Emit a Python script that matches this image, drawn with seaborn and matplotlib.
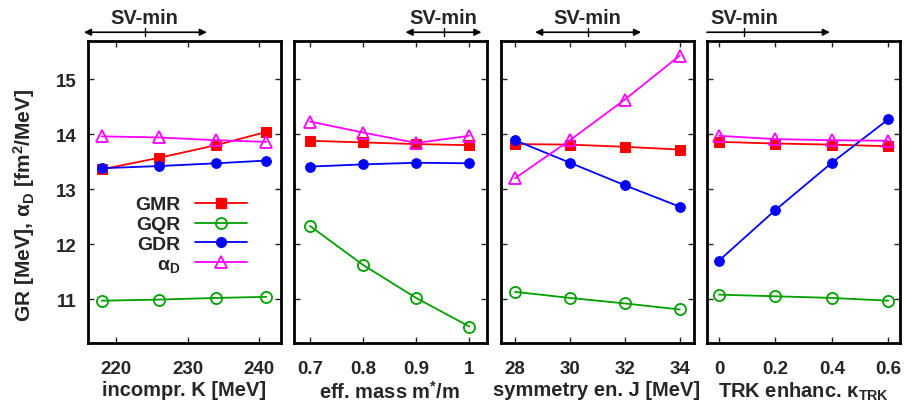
import matplotlib
matplotlib.use("Agg")
import matplotlib.pyplot as plt
import numpy as np
import pandas as pd
import seaborn as sns
from matplotlib.lines import Line2D

# ---- parameter scans (x values) ----
K_vals = [218, 226, 234, 241]
mstar_vals = [0.7, 0.8, 0.9, 1.0]
J_vals = [28, 30, 32, 34]
kappa_vals = [0.0, 0.2, 0.4, 0.6]

# ---- resonance energies [MeV] and polarizability [fm^2/MeV] ----
gmr_K = [13.36, 13.57, 13.80, 14.04]
gqr_K = [10.97, 10.99, 11.02, 11.04]
gdr_K = [13.38, 13.42, 13.47, 13.52]
alpha_K = [13.96, 13.94, 13.89, 13.86]

gmr_m = [13.88, 13.85, 13.82, 13.80]
gqr_m = [12.33, 11.62, 11.02, 10.50]
gdr_m = [13.41, 13.45, 13.48, 13.47]
alpha_m = [14.23, 14.03, 13.84, 13.97]

gmr_J = [13.82, 13.81, 13.77, 13.72]
gqr_J = [11.13, 11.02, 10.92, 10.81]
gdr_J = [13.89, 13.48, 13.07, 12.68]
alpha_J = [13.20, 13.89, 14.63, 15.43]

gmr_k = [13.86, 13.83, 13.81, 13.78]
gqr_k = [11.08, 11.05, 11.02, 10.97]
gdr_k = [11.70, 12.62, 13.48, 14.27]
alpha_k = [13.97, 13.91, 13.89, 13.88]

# ---- SV-min ranges (lower end, central value, upper end) ----
svmin_K = [215.5, 224.0, 232.7]
svmin_m = [0.880, 0.952, 1.023]
svmin_J = [28.73, 30.65, 32.59]
svmin_k = [None, 0.088, 0.393]

series_names = ["GMR", "GQR", "GDR", "alpha"]
legend_labels = ["GMR", "GQR", "GDR", r"$\mathrm{\alpha}_\mathbf{D}$"]

sns.set_style("ticks")
plt.rcParams.update({
    "font.family": ["Liberation Sans", "DejaVu Sans"],
    "font.weight": "bold",
    "axes.labelweight": "bold",
    "mathtext.fontset": "custom",
    "mathtext.rm": "Liberation Sans",
    "mathtext.it": "Liberation Sans:italic",
    "mathtext.bf": "Liberation Sans:bold",
})

styles = {
    "GMR": dict(color="#ff0000", marker="s", markersize=7.5, markerfacecolor="#ff0000",
                markeredgecolor="#ff0000"),
    "GQR": dict(color="#00a000", marker="o", markersize=8, markerfacecolor="none",
                markeredgecolor="#00a000", markeredgewidth=1.3),
    "GDR": dict(color="#0000ff", marker="o", markersize=7, markerfacecolor="#0000ff",
                markeredgecolor="#0000ff"),
    "alpha": dict(color="#ff00ff", marker="^", markersize=9, markerfacecolor="none",
                  markeredgecolor="#ff00ff", markeredgewidth=1.3),
}

panels = [
    dict(x=K_vals, ys=[gmr_K, gqr_K, gdr_K, alpha_K], xlim=(216, 243),
         xticks=[220, 230, 240], xticklabels=["220", "230", "240"],
         xlabel="incompr. K [MeV]", sv=svmin_K),
    dict(x=mstar_vals, ys=[gmr_m, gqr_m, gdr_m, alpha_m], xlim=(0.669, 1.0325),
         xticks=[0.7, 0.8, 0.9, 1.0], xticklabels=["0.7", "0.8", "0.9", "1"],
         xlabel=r"eff. mass m$^\mathbf{*}$/m", sv=svmin_m),
    dict(x=J_vals, ys=[gmr_J, gqr_J, gdr_J, alpha_J], xlim=(27.47, 34.5),
         xticks=[28, 30, 32, 34], xticklabels=["28", "30", "32", "34"],
         xlabel="symmetry en. J [MeV]", sv=svmin_J),
    dict(x=kappa_vals, ys=[gmr_k, gqr_k, gdr_k, alpha_k], xlim=(-0.0426, 0.6416),
         xticks=[0.0, 0.2, 0.4, 0.6], xticklabels=["0", "0.2", "0.4", "0.6"],
         xlabel=r"TRK enhanc. $\mathrm{\kappa}_\mathbf{TRK}$", sv=svmin_k),
]

W, H = 906, 406
fig = plt.figure(figsize=(W / 100, H / 100), dpi=100)
lefts_px = [87.5, 293.5, 500.5, 707.0]
width_px = 193.0
top_px, bottom_px = 42.3, 344.0

tick_fs = 13.5
label_fs = 14.5

for i, (p, lpx) in enumerate(zip(panels, lefts_px)):
    ax = fig.add_axes([lpx / W, 1 - bottom_px / H, width_px / W, (bottom_px - top_px) / H])
    for name, yv in zip(series_names, p["ys"]):
        df = pd.DataFrame({"x": p["x"], "y": yv})
        sns.lineplot(data=df, x="x", y="y", ax=ax, linewidth=1.3, legend=False,
                     **styles[name])
    ax.set_xlim(*p["xlim"])
    ax.set_ylim(10.2, 15.69)
    ax.set_xticks(p["xticks"])
    ax.set_xticklabels(p["xticklabels"])
    ax.set_yticks([11, 12, 13, 14, 15])
    ax.tick_params(direction="in", top=True, right=True, length=4, width=1.0,
                   labelsize=tick_fs)
    ax.tick_params(axis="x", pad=12)
    ax.tick_params(axis="y", pad=8)
    if i > 0:
        ax.tick_params(labelleft=False)
        ax.set_ylabel("")
    else:
        ax.set_ylabel(r"GR [MeV], $\mathrm{\alpha}_\mathbf{D}$ [fm$^\mathbf{2}$/MeV]",
                      fontsize=15.0)
        ax.yaxis.set_label_coords(-0.262, 0.46)
    ax.set_xlabel(p["xlabel"], fontsize=label_fs, labelpad=2.5)
    for t in ax.get_xticklabels() + ax.get_yticklabels():
        t.set_fontweight("bold")
    for s in ax.spines.values():
        s.set_linewidth(2.0)
        s.set_color("black")

    # SV-min range indicator above the panel
    lo, mid, hi = p["sv"]
    y_arr = 1.030
    if lo is None:
        start = p["xlim"][0]
        style = "-|>"
    else:
        start = lo
        style = "<|-|>"
    trans = ax.get_xaxis_transform()
    ax.annotate("", xy=(hi, y_arr), xytext=(start, y_arr), xycoords=trans,
                textcoords=trans, annotation_clip=False,
                arrowprops=dict(arrowstyle=style, color="black", lw=1.2,
                                mutation_scale=10, shrinkA=0, shrinkB=0))
    ax.plot([mid, mid], [y_arr - 0.013, y_arr + 0.013], transform=trans,
            color="black", lw=1.0, clip_on=False)
    ax.text(mid, 1.080, "SV-min", transform=trans, ha="center", va="center",
            fontsize=label_fs, fontweight="bold")

    if i == 0:
        handles = [Line2D([], [], linewidth=1.3, **styles[n]) for n in series_names]
        ax.legend(handles, legend_labels, loc="upper right",
                  bbox_to_anchor=(0.826, 0.488), frameon=False,
                  markerfirst=False, fontsize=tick_fs + 0.5, handlelength=2.65,
                  handletextpad=0.75, labelspacing=0.12, borderpad=0,
                  borderaxespad=0)

fig.savefig("out.png", dpi=100)
